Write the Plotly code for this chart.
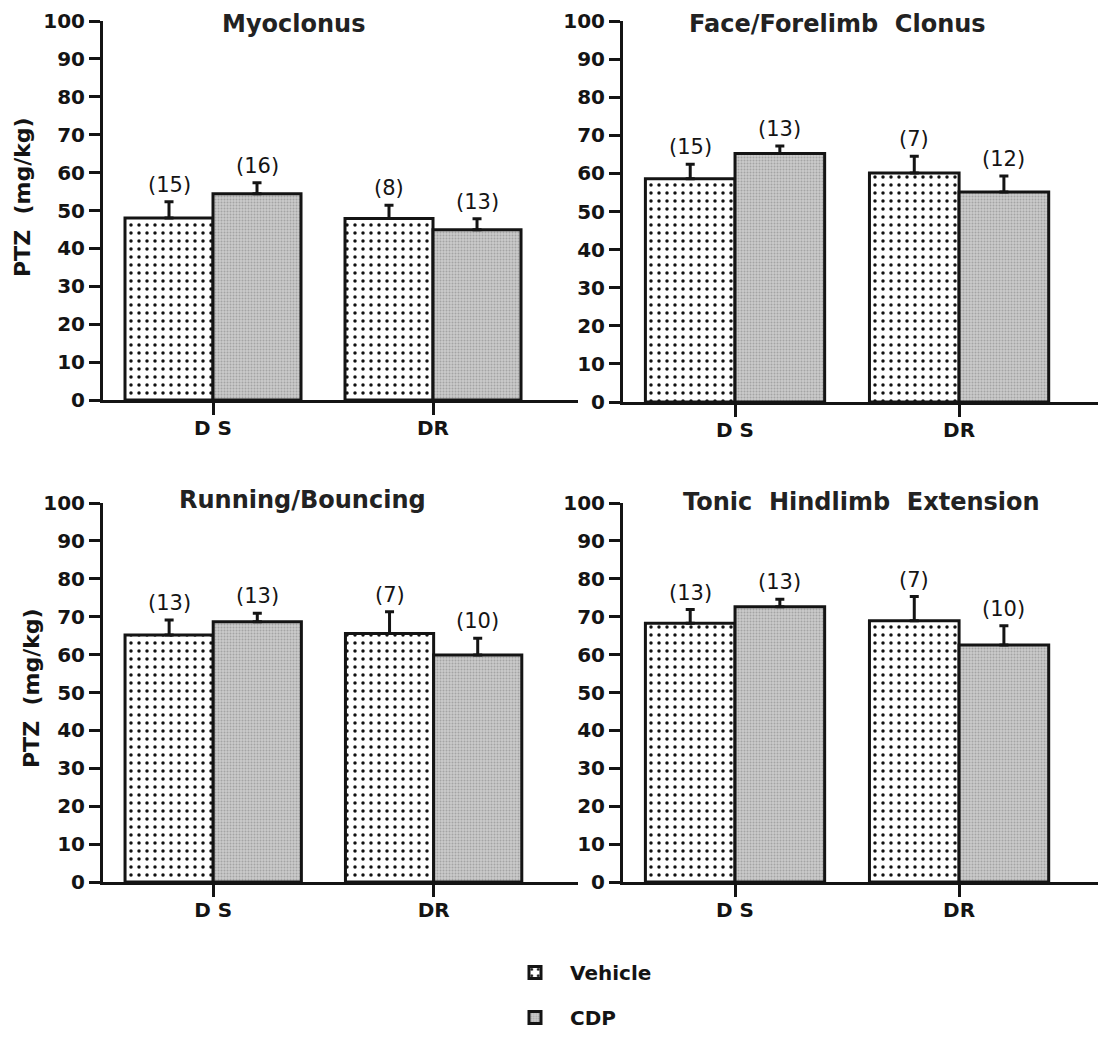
import plotly.graph_objects as go

# Seizure thresholds (PTZ dose, mg/kg), mean with upward SEM, and group sizes
categories = ["D S", "DR"]
panel_titles = ["Myoclonus", "Face/Forelimb  Clonus", "Running/Bouncing", "Tonic  Hindlimb  Extension"]

myoclonus_vehicle = [48.0, 47.9]
myoclonus_vehicle_err = [4.3, 3.5]
myoclonus_cdp = [54.4, 44.9]
myoclonus_cdp_err = [2.9, 2.9]
myoclonus_vehicle_n = [15, 8]
myoclonus_cdp_n = [16, 13]

clonus_vehicle = [58.6, 60.1]
clonus_vehicle_err = [3.8, 4.4]
clonus_cdp = [65.2, 55.1]
clonus_cdp_err = [2.0, 4.2]
clonus_vehicle_n = [15, 7]
clonus_cdp_n = [13, 12]

running_vehicle = [65.2, 65.6]
running_vehicle_err = [3.9, 5.7]
running_cdp = [68.7, 59.9]
running_cdp_err = [2.2, 4.4]
running_vehicle_n = [13, 7]
running_cdp_n = [13, 10]

tonic_vehicle = [68.3, 68.9]
tonic_vehicle_err = [3.6, 6.4]
tonic_cdp = [72.6, 62.5]
tonic_cdp_err = [2.0, 5.1]
tonic_vehicle_n = [13, 7]
tonic_cdp_n = [13, 10]

y_ticks = [0, 10, 20, 30, 40, 50, 60, 70, 80, 90, 100]

panels = [
    (myoclonus_vehicle, myoclonus_vehicle_err, myoclonus_cdp, myoclonus_cdp_err,
     myoclonus_vehicle_n, myoclonus_cdp_n),
    (clonus_vehicle, clonus_vehicle_err, clonus_cdp, clonus_cdp_err,
     clonus_vehicle_n, clonus_cdp_n),
    (running_vehicle, running_vehicle_err, running_cdp, running_cdp_err,
     running_vehicle_n, running_cdp_n),
    (tonic_vehicle, tonic_vehicle_err, tonic_cdp, tonic_cdp_err,
     tonic_vehicle_n, tonic_cdp_n),
]

W, H = 1098, 1037
INK = "#141414"
FONT = "DejaVu Sans, Liberation Sans, Arial, sans-serif"

# panel geometry in pixels: (axis left, axis right, y of 0, y of 100, x-range right end)
geom = [
    (103, 578, 400, 21, 1.659),
    (623, 1098, 402, 21, 1.62),
    (103, 578, 882, 503, 1.655),
    (623, 1098, 882, 503, 1.62),
]

vehicle_pattern = dict(shape=".", fgcolor="#111111", bgcolor="white",
                       size=8, solidity=0.15, fillmode="replace")
cdp_pattern = dict(shape=".", fgcolor="#a4a4a4", bgcolor="#cbcbcb",
                   size=3, solidity=0.35, fillmode="replace")

fig = go.Figure()
annotations = []

for i, (veh, veh_err, cdp, cdp_err, veh_n, cdp_n) in enumerate(panels):
    ax = "" if i == 0 else str(i + 1)
    xref, yref = "x" + ax, "y" + ax
    fig.add_trace(go.Bar(
        x=categories, y=veh, name="Vehicle", offset=-0.4,
        marker=dict(color="white", pattern=vehicle_pattern, line=dict(color=INK, width=3)),
        error_y=dict(type="data", symmetric=False, array=veh_err,
                     arrayminus=[0] * len(veh_err), color=INK, thickness=3, width=4.5),
        showlegend=(i == 0), legendgroup="veh", xaxis=xref, yaxis=yref, width=0.4,
    ))
    fig.add_trace(go.Bar(
        x=categories, y=cdp, name="CDP", offset=0.0,
        marker=dict(color="#cbcbcb", pattern=cdp_pattern, line=dict(color=INK, width=3)),
        error_y=dict(type="data", symmetric=False, array=cdp_err,
                     arrayminus=[0] * len(cdp_err), color=INK, thickness=3, width=4.5),
        showlegend=(i == 0), legendgroup="cdp", xaxis=xref, yaxis=yref, width=0.4,
    ))

    # group sizes above the error bars
    for j in range(len(categories)):
        for val, err, n, dx in ((veh[j], veh_err[j], veh_n[j], -0.2),
                                (cdp[j], cdp_err[j], cdp_n[j], 0.2)):
            annotations.append(dict(
                x=j + dx, y=val + err, xref=xref, yref=yref, text=f"({n})",
                showarrow=False, yanchor="bottom", yshift=3,
                font=dict(family=FONT, size=21, color=INK),
            ))

    left, right, y0, y100, xr = geom[i]
    fig.update_layout({
        "xaxis" + ax: dict(
            domain=[left / W, right / W], range=[-0.5, xr], type="category",
            anchor=yref, showline=True, linecolor=INK, linewidth=3,
            ticks="outside", ticklen=12, tickwidth=2.5, tickcolor=INK,
            ticklabelstandoff=-4,
            showgrid=False, zeroline=False, fixedrange=True, automargin=False,
            tickfont=dict(family=FONT, size=20, color=INK, weight="bold"),
        ),
        "yaxis" + ax: dict(
            domain=[(H - y0) / H, (H - y100) / H], range=[0, 100],
            anchor=xref, showline=True, linecolor=INK, linewidth=3,
            tickvals=y_ticks, ticks="outside", ticklen=11, tickwidth=2.5,
            tickcolor=INK, showgrid=False, zeroline=False, fixedrange=True,
            automargin=False,
            tickfont=dict(family=FONT, size=20, color=INK, weight="bold"),
        ),
    })

# panel titles
title_pos = [(293, 24), (837, 24), (302, 500), (862, 502)]
for (tx, ty), title in zip(title_pos, panel_titles):
    annotations.append(dict(
        x=tx / W, y=(H - ty) / H, xref="paper", yref="paper", text=title,
        showarrow=False, xanchor="center", yanchor="middle",
        font=dict(family=FONT, size=24, color="#222222", weight="bold"),
    ))

# y-axis titles on the left-hand panels
for tx, ty in ((22, 197), (32, 688)):
    annotations.append(dict(
        x=tx / W, y=(H - ty) / H, xref="paper", yref="paper",
        text="PTZ  (mg/kg)", textangle=-90, showarrow=False,
        xanchor="center", yanchor="middle",
        font=dict(family=FONT, size=22, color=INK, weight="bold"),
    ))

fig.update_layout(
    template="none",
    width=W, height=H,
    margin=dict(l=0, r=0, t=0, b=0, autoexpand=False),
    paper_bgcolor="white", plot_bgcolor="white",
    barmode="overlay",
    annotations=annotations,
    showlegend=True,
    legend=dict(
        x=500 / W, y=(H - 953) / H, xanchor="left", yanchor="top",
        orientation="v", tracegroupgap=16, itemwidth=60,
        bgcolor="rgba(0,0,0,0)", borderwidth=0,
        font=dict(family=FONT, size=20, color=INK, weight="bold"),
    ),
)

fig.write_html("out.html")
